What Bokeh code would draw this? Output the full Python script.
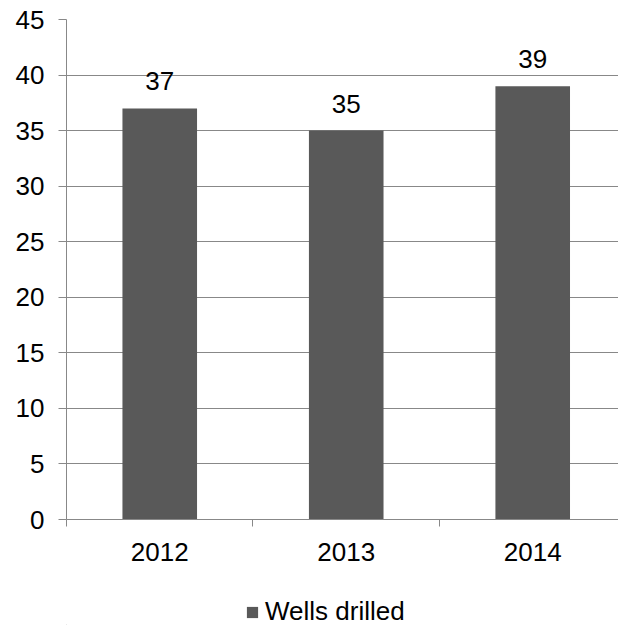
from bokeh.plotting import figure
from bokeh.layouts import column
from bokeh.models import (Range1d, FixedTicker, ColumnDataSource, LabelSet,
                          Legend, LegendItem)
from bokeh.core.properties import value
from bokeh.embed import file_html
from bokeh.resources import INLINE

# Data
years = ["2012", "2013", "2014"]
wells_drilled = [37, 35, 39]
y_ticks = [0, 5, 10, 15, 20, 25, 30, 35, 40, 45]
series_name = "Wells drilled"

FONT = "Liberation Sans"
GRID = "#888888"
BAR = "#595959"

# each year occupies one unit on a numeric x scale; bars sit at the centre
centers = [i + 0.5 for i in range(len(years))]
boundaries = [float(i) for i in range(len(years) + 1)]

source = ColumnDataSource(dict(
    x=centers,
    top=wells_drilled,
    label=[str(v) for v in wells_drilled],
))

p = figure(width=618, height=585, frame_width=552, frame_height=500,
           output_backend="svg", toolbar_location=None,
           x_range=Range1d(0, 2.96), y_range=Range1d(0, 45),
           min_border_left=66, min_border_right=0, min_border_top=19,
           min_border_bottom=66)
p.outline_line_color = None
p.background_fill_color = "white"
p.border_fill_color = "white"

bars = p.vbar(x="x", top="top", bottom=0, width=0.4, source=source,
              fill_color=BAR, line_color=None)

labels = LabelSet(x="x", y="top", text="label", source=source,
                  text_align="center", text_baseline="alphabetic",
                  y_offset=18, text_font_size=value("26px"),
                  text_font=value(FONT), text_color="black")
p.add_layout(labels)

# y axis
p.yaxis.ticker = FixedTicker(ticks=y_ticks)
p.yaxis.axis_line_color = GRID
p.yaxis.major_tick_line_color = GRID
p.yaxis.major_tick_in = 0
p.yaxis.major_tick_out = 8
p.yaxis.minor_tick_line_color = None
p.yaxis.major_label_standoff = 14
p.yaxis.major_label_text_font = FONT
p.yaxis.major_label_text_font_size = "26px"
p.yaxis.major_label_text_color = "black"

# x axis: labels at category centres, tick marks on category boundaries
p.xaxis.ticker = FixedTicker(ticks=centers, minor_ticks=boundaries)
p.xaxis.major_label_overrides = {c: y for c, y in zip(centers, years)}
p.xaxis.axis_line_color = GRID
p.xaxis.major_tick_line_color = None
p.xaxis.minor_tick_line_color = GRID
p.xaxis.minor_tick_in = 0
p.xaxis.minor_tick_out = 7
p.xaxis.major_label_standoff = 16
p.xaxis.major_label_text_font = FONT
p.xaxis.major_label_text_font_size = "26px"
p.xaxis.major_label_text_color = "black"

p.xgrid.visible = False
p.ygrid.ticker = FixedTicker(ticks=y_ticks)
p.ygrid.grid_line_color = GRID
p.ygrid.grid_line_width = 1

# legend strip underneath the chart; its key glyph is a bar parked off-screen
leg = figure(width=618, height=40, output_backend="svg", toolbar_location=None,
             x_range=Range1d(0, 618), y_range=Range1d(0, 40),
             x_axis_type=None, y_axis_type=None, min_border=0)
leg.outline_line_color = None
leg.xgrid.visible = False
leg.ygrid.visible = False
key = leg.vbar(x=[-100], top=[1], width=1, fill_color=BAR, line_color=None)

legend = Legend(items=[LegendItem(label=series_name, renderers=[key])],
                orientation="horizontal", location=(179, -2),
                glyph_width=14, glyph_height=14, label_standoff=6,
                label_text_font=FONT, label_text_font_size="26px",
                label_text_color="black", border_line_color=None,
                background_fill_alpha=0, padding=0, margin=0, spacing=0)
leg.add_layout(legend, "center")

layout = column(p, leg, spacing=0)
open("out.html", "w").write(file_html(layout, INLINE))
